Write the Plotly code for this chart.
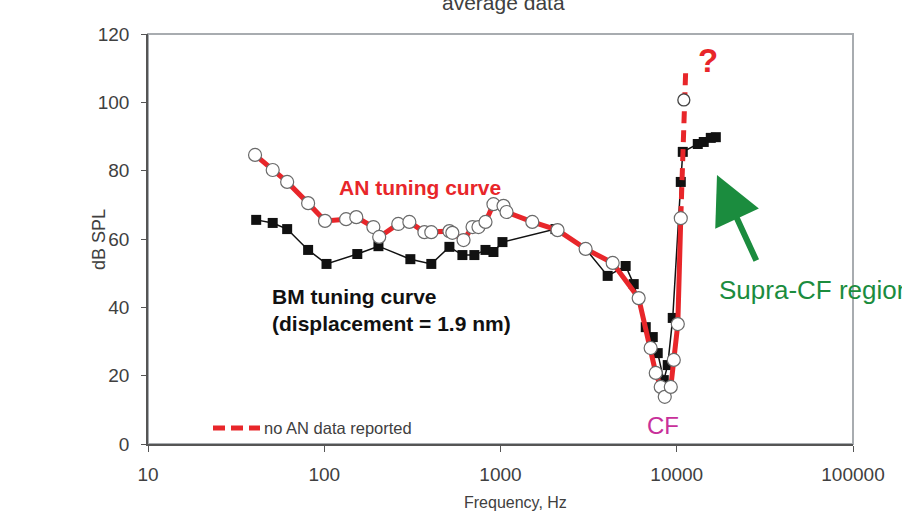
import plotly.graph_objects as go

# ---------------- data ----------------
an_freq = [40.5, 51, 61.6, 81, 101, 133, 152, 190, 205, 263, 304, 370, 405,
           513, 533, 617, 694, 750, 822, 912, 1040, 1082, 1515, 2107, 3040,
           4330, 6080, 7110, 7600, 8110, 8550, 9250, 9620, 10140, 10540]
an_db = [84.6, 80.2, 76.7, 70.5, 65.3, 65.8, 66.4, 63.5, 60.6, 64.4, 65.0,
         62.0, 62.0, 62.3, 61.8, 59.7, 63.5, 63.5, 65.0, 70.2, 69.7, 67.9,
         65.0, 62.6, 57.1, 53.0, 42.7, 28.1, 20.8, 16.7, 13.8, 16.7, 24.6,
         35.1, 66.1]

bm_freq = [41.1, 51, 61.6, 81, 103, 154, 203, 308, 405, 513, 608, 711, 822,
           912, 1026, 2050, 3040, 4055, 5130, 5700, 6670, 7310, 7800, 8440,
           8890, 9490, 10540, 10820, 13160, 14230, 15600, 16660]
bm_db = [65.6, 64.7, 62.9, 56.8, 52.7, 55.6, 57.9, 54.1, 52.7, 57.7, 55.3,
         55.3, 56.8, 56.2, 59.1, 62.9, 57.1, 49.2, 52.1, 46.8, 34.2, 31.3,
         26.6, 18.7, 23.1, 36.9, 76.7, 85.5, 87.8, 88.4, 89.6, 89.8]

ext_freq = [10540, 10970, 11250]
ext_db = [66.1, 100.7, 110.0]

dotted_freq = [10970]
dotted_db = [100.7]

x_tickvals = [10, 100, 1000, 10000, 100000]
x_ticktext = ["10", "100", "1000", "10000", "100000"]
y_tickvals = [0, 20, 40, 60, 80, 100, 120]

RED = "#e8262a"
GREEN = "#1b8c3e"
MAGENTA = "#c8309a"
GRAY_TXT = "#404040"
FONT = "Liberation Sans, Arial, sans-serif"

fig = go.Figure()

# BM tuning curve
fig.add_trace(go.Scatter(
    x=bm_freq, y=bm_db, mode="lines+markers",
    line=dict(color="#111111", width=1.5),
    marker=dict(symbol="square", size=10, color="#111111"),
    showlegend=False))

# extrapolated AN (dashed)
fig.add_trace(go.Scatter(
    x=ext_freq, y=ext_db, mode="lines",
    line=dict(color=RED, width=5, dash="12px,7px"),
    showlegend=False))

# AN tuning curve
fig.add_trace(go.Scatter(
    x=an_freq, y=an_db, mode="lines+markers",
    line=dict(color=RED, width=5),
    marker=dict(symbol="circle", size=13, color="white",
                line=dict(color="#6a6a6a", width=1.2)),
    showlegend=False))

# dotted-outline point
fig.add_trace(go.Scatter(
    x=dotted_freq, y=dotted_db, mode="markers",
    marker=dict(symbol="circle", size=12, color="white",
                line=dict(color="#444444", width=1.3)),
    showlegend=False))

def px2x(px):
    return (px - 148) / 705.0

def py2y(py):
    return (444 - py) / 410.0

ann = []
def txt(text, px, py, size, color, xanchor="center", **kw):
    ann.append(dict(text=text, x=px2x(px), y=py2y(py), xref="paper", yref="paper",
                    showarrow=False, font=dict(size=size, color=color, family=FONT),
                    xanchor=xanchor, yanchor="middle", **kw))

txt("average data", 504, 3, 21, GRAY_TXT)
txt("<b>AN tuning curve</b>", 420, 187, 21, RED)
txt("<b>BM tuning curve</b>", 270, 296, 21, "#111111", xanchor="left")
txt("<b>(displacement = 1.9 nm)</b>", 270, 323, 21, "#111111", xanchor="left")
txt("CF", 663, 425, 24, MAGENTA)
txt("<b>?</b>", 708, 61, 33, RED)
txt("Supra-CF region", 717, 290, 26, GREEN, xanchor="left")
txt("no AN data reported", 262, 428, 16.5, GRAY_TXT, xanchor="left")
txt("dB SPL", 99, 240, 18, GRAY_TXT, textangle=-90)
txt("Frequency, Hz", 515, 503, 16, GRAY_TXT)

ann.append(dict(text="", x=px2x(717), y=py2y(175), xref="paper", yref="paper",
                showarrow=True, ax=40, ay=87, arrowcolor=GREEN, arrowwidth=6,
                arrowhead=2, arrowsize=1.6, standoff=0))

shapes = [
    dict(type="rect", xref="paper", yref="paper", x0=0, x1=1, y0=0, y1=1,
         line=dict(color="#a8acb0", width=2), layer="below"),
    dict(type="line", xref="paper", yref="paper", x0=px2x(213), x1=px2x(260),
         y0=py2y(428), y1=py2y(428), line=dict(color=RED, width=5, dash="12px,6px")),
]

fig.update_layout(
    width=902, height=527,
    margin=dict(l=148, r=49, t=34, b=83),
    paper_bgcolor="white", plot_bgcolor="white",
    font=dict(family=FONT, color=GRAY_TXT, size=18),
    annotations=ann, shapes=shapes, showlegend=False,
)
fig.update_xaxes(type="log", range=[1, 5], tickvals=x_tickvals, ticktext=x_ticktext,
                 showgrid=False, zeroline=False, showline=True, linecolor="#555555", linewidth=1.5,
                 ticks="outside", ticklen=6, tickcolor="#555555", tickwidth=1.2,
                 tickfont=dict(size=19, color=GRAY_TXT), ticklabelstandoff=6)
fig.update_yaxes(range=[0, 120], tickvals=y_tickvals,
                 showgrid=False, zeroline=False, showline=True, linecolor="#555555", linewidth=1.5,
                 ticks="outside", ticklen=5, tickcolor="#555555", tickwidth=1.2,
                 tickfont=dict(size=19, color=GRAY_TXT), ticklabelstandoff=8)

fig.write_html("out.html", config={"displayModeBar": False},
               post_script="document.body.style.margin='0';")
